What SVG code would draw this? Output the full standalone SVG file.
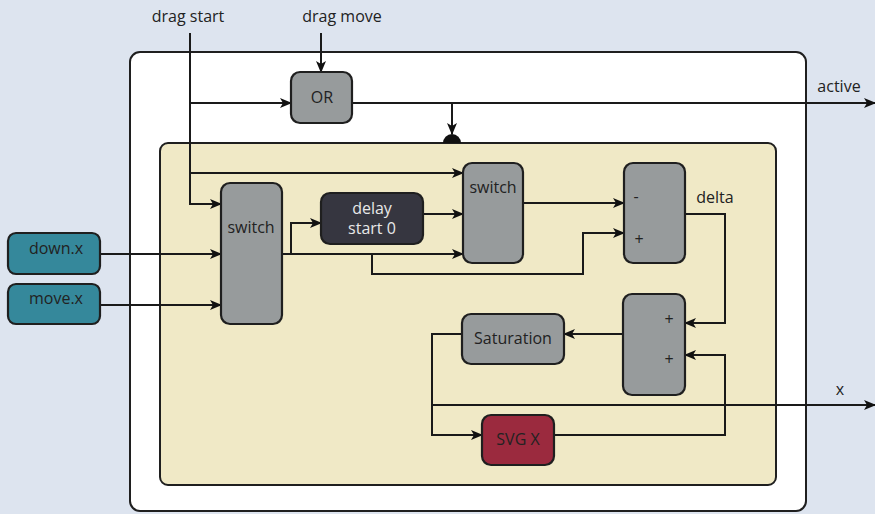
<svg xmlns="http://www.w3.org/2000/svg" width="875" height="514" viewBox="0 0 875 514">
<defs>
<marker id="ah" markerWidth="12" markerHeight="10" refX="11" refY="5" orient="auto" markerUnits="userSpaceOnUse">
<path d="M0,0 L12,5 L0,10 L3,5 Z" fill="#111"/>
</marker>
<style>
.c{fill:none;stroke:#1a1a1a;stroke-width:2}
.a{marker-end:url(#ah)}
.t{font-family:"Open Sans","Liberation Sans",sans-serif;font-size:16px;fill:#222}
.n{stroke:#1f1f1f;stroke-width:2.2}
.g{fill:#979b9c}
</style>
</defs>
<rect x="0" y="0" width="875" height="514" fill="#dde4ef"/>
<g id="outer"><rect x="130" y="52" width="676" height="459" rx="10" fill="#ffffff" stroke="#1f1f1f" stroke-width="2"/></g>
<g id="inner"><rect x="160" y="143" width="616" height="342" rx="8" fill="#f0e9c6" stroke="#1f1f1f" stroke-width="2"/></g>
<text class="t" x="188" y="22" text-anchor="middle">drag start</text>
<text class="t" x="342" y="22" text-anchor="middle">drag move</text>
<text class="t" x="839" y="92" text-anchor="middle">active</text>
<text class="t" x="840" y="395" text-anchor="middle">x</text>
<text class="t" x="715" y="203" text-anchor="middle">delta</text>
<g id="connectors">
<path class="c a" d="M190,33 V204 H221"/>
<path class="c a" d="M190,103 H291"/>
<path class="c a" d="M190,173 H463"/>
<path class="c a" d="M321,33 V72"/>
<path class="c a" d="M352,103 H875"/>
<path class="c a" d="M452,103 V134"/>
<path d="M443,143 A9,9 0 0 1 461,143 Z" fill="#111"/>
<path class="c a" d="M100,254 H221"/>
<path class="c a" d="M100,305 H221"/>
<path class="c a" d="M282,254 H463"/>
<path class="c a" d="M291,254 V223 H321"/>
<path class="c a" d="M423,214 H463"/>
<path class="c a" d="M372,254 V274 H583 V233 H624"/>
<path class="c a" d="M523,203 H624"/>
<path class="c a" d="M685,214 H725 V323 H685"/>
<path class="c a" d="M623,334 H564"/>
<path class="c a" d="M462,334 H432 V435 H482"/>
<path class="c a" d="M432,405 H875"/>
<path class="c a" d="M554,435 H725 V355 H685"/>
</g>
<g id="or"><rect class="n g" x="291" y="72" width="61" height="51" rx="9"/><text class="t" x="322" y="103" text-anchor="middle">OR</text></g>
<g id="switch1"><rect class="n g" x="221" y="183" width="61" height="141" rx="9"/><text class="t" x="251" y="233" text-anchor="middle">switch</text></g>
<g id="downx"><rect class="n" x="8" y="233" width="92" height="41" rx="8" fill="#35889b"/><text class="t" x="56" y="254" text-anchor="middle">down.x</text></g>
<g id="movex"><rect class="n" x="8" y="284" width="92" height="40" rx="8" fill="#35889b"/><text class="t" x="56" y="304" text-anchor="middle">move.x</text></g>
<g id="delay"><rect class="n" x="321" y="193" width="102" height="51" rx="9" fill="#363640"/><text class="t" x="372" y="214" text-anchor="middle" style="fill:#e8e8e8">delay</text><text class="t" x="372" y="234" text-anchor="middle" style="fill:#e8e8e8">start 0</text></g>
<g id="switch2"><rect class="n g" x="463" y="163" width="60" height="100" rx="9"/><text class="t" x="493" y="193" text-anchor="middle">switch</text></g>
<g id="minus"><rect class="n g" x="624" y="163" width="61" height="100" rx="9"/><text class="t" x="636" y="202" text-anchor="middle">-</text><text class="t" x="639" y="245" text-anchor="middle">+</text></g>
<g id="plus"><rect class="n g" x="623" y="294" width="62" height="101" rx="9"/><text class="t" x="669" y="325" text-anchor="middle">+</text><text class="t" x="669" y="365" text-anchor="middle">+</text></g>
<g id="saturation"><rect class="n g" x="462" y="314" width="102" height="50" rx="9"/><text class="t" x="513" y="344" text-anchor="middle">Saturation</text></g>
<g id="svgx"><rect class="n" x="482" y="415" width="72" height="50" rx="9" fill="#9b2a3e"/><text class="t" x="518" y="445" text-anchor="middle">SVG X</text></g>
</svg>
